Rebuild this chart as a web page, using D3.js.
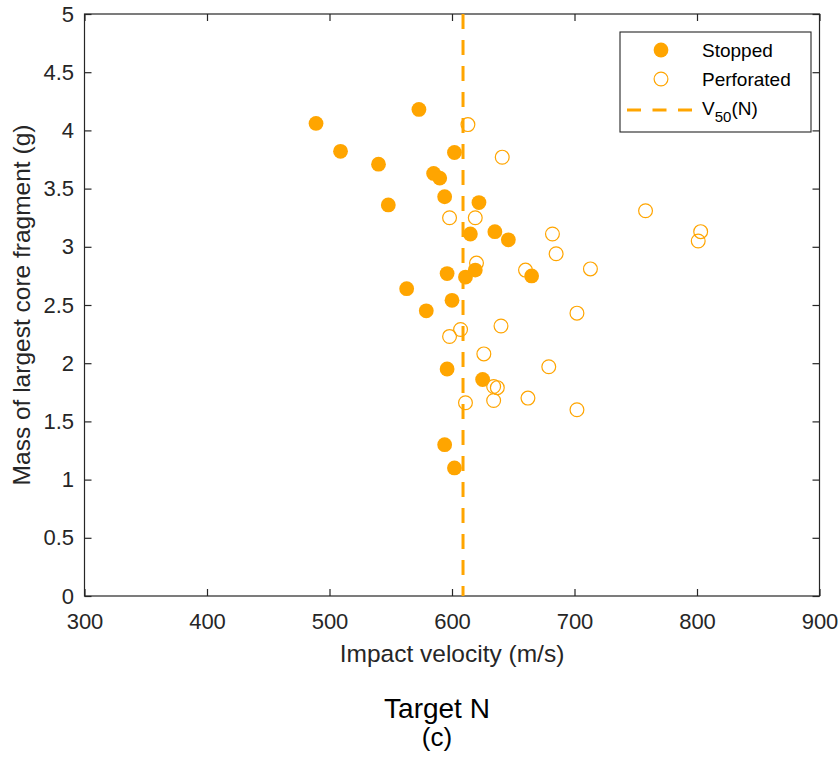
<!DOCTYPE html>
<html><head><meta charset="utf-8">
<script src="https://cdn.jsdelivr.net/npm/d3@7"></script>
<style>body{margin:0;background:#fff;} text{font-family:"Liberation Sans",Arial,sans-serif;}</style>
</head><body>
<svg id="c" width="839" height="761"></svg>
<script>
const stoppedX = [489,509,540,573,548,585,590,602,594,622,615,635,646,596,611,619,665,563,579,600,596,625,594,602];
const stoppedY = [4.06,3.82,3.71,4.18,3.36,3.63,3.59,3.81,3.43,3.38,3.11,3.13,3.06,2.77,2.74,2.80,2.75,2.64,2.45,2.54,1.95,1.86,1.30,1.10];
const perfX = [613,641,598,619,620,660,682,685,713,702,758,803,801,640,607,598,626,679,634,637,634,662,702,611];
const perfY = [4.05,3.77,3.25,3.25,2.86,2.80,3.11,2.94,2.81,2.43,3.31,3.13,3.05,2.32,2.29,2.23,2.08,1.97,1.80,1.79,1.68,1.70,1.60,1.66];
const v50 = 609;
const xTicks = [300,400,500,600,700,800,900];
const yTicks = [0,0.5,1,1.5,2,2.5,3,3.5,4,4.5,5];
const legendLabels = ["Stopped","Perforated"];

const col = "#ffa500", axc = "#262626";
const L=84.5, R=819.5, T=14, B=596;
const svg = d3.select("#c");
const x = d3.scaleLinear().domain([300,900]).range([L,R]);
const y = d3.scaleLinear().domain([0,5]).range([B,T]);

svg.append("rect").attr("x",L).attr("y",T).attr("width",R-L).attr("height",B-T)
  .attr("fill","none").attr("stroke",axc).attr("stroke-width",1.2);

const fmt = d => String(d);
const gx = svg.append("g").attr("transform",`translate(0,${B})`)
  .call(d3.axisBottom(x).tickValues(xTicks).tickSize(-7).tickPadding(17).tickFormat(fmt));
const gxt = svg.append("g").attr("transform",`translate(0,${T})`)
  .call(d3.axisTop(x).tickValues(xTicks).tickSize(-7).tickFormat(""));
const gy = svg.append("g").attr("transform",`translate(${L},0)`)
  .call(d3.axisLeft(y).tickValues(yTicks).tickSize(-7).tickPadding(10.5).tickFormat(fmt));
const gyr = svg.append("g").attr("transform",`translate(${R},0)`)
  .call(d3.axisRight(y).tickValues(yTicks).tickSize(-7).tickFormat(""));
[gx,gxt,gy,gyr].forEach(g=>{
  g.select(".domain").remove();
  g.selectAll("line").attr("stroke",axc).attr("stroke-width",1.2);
  g.selectAll("text").attr("fill",axc).style("font-size","22px").style("font-family","Liberation Sans, Arial, sans-serif");
});

svg.append("line").attr("x1",x(v50)).attr("x2",x(v50)).attr("y1",T).attr("y2",B)
  .attr("stroke",col).attr("stroke-width",3).attr("stroke-dasharray","15,11");

svg.append("g").selectAll("circle").data(stoppedX.map((d,i)=>[d,stoppedY[i]])).join("circle")
  .attr("cx",d=>x(d[0])).attr("cy",d=>y(d[1])).attr("r",7.4).attr("fill",col);
svg.append("g").selectAll("circle").data(perfX.map((d,i)=>[d,perfY[i]])).join("circle")
  .attr("cx",d=>x(d[0])).attr("cy",d=>y(d[1])).attr("r",6.9).attr("fill","none")
  .attr("stroke",col).attr("stroke-width",1.2);

const lg = svg.append("g");
lg.append("rect").attr("x",620).attr("y",32).attr("width",191).attr("height",100)
  .attr("fill","#fff").attr("stroke",axc).attr("stroke-width",1.1);
lg.append("circle").attr("cx",661).attr("cy",50).attr("r",7.4).attr("fill",col);
lg.append("circle").attr("cx",661).attr("cy",79).attr("r",6.9).attr("fill","none").attr("stroke",col).attr("stroke-width",1.2);
lg.append("line").attr("x1",627).attr("x2",692).attr("y1",110).attr("y2",110)
  .attr("stroke",col).attr("stroke-width",3).attr("stroke-dasharray","14,11.5");
lg.append("text").attr("x",702).attr("y",57).text(legendLabels[0]).style("font-size","19px").attr("fill","#000");
lg.append("text").attr("x",702).attr("y",86).text(legendLabels[1]).style("font-size","19px").attr("fill","#000");
const vt = lg.append("text").attr("x",702).attr("y",115).style("font-size","19px").attr("fill","#000");
vt.append("tspan").text("V");
vt.append("tspan").text("50").attr("dy",7).style("font-size","15px");
vt.append("tspan").text("(N)").attr("dy",-7);

svg.append("text").attr("x",(L+R)/2).attr("y",662).attr("text-anchor","middle")
  .style("font-size","24.5px").attr("fill",axc).text("Impact velocity (m/s)");
svg.append("text").attr("transform",`translate(30,${(T+B)/2}) rotate(-90)`).attr("text-anchor","middle")
  .style("font-size","24.5px").attr("fill",axc).text("Mass of largest core fragment (g)");

svg.append("text").attr("x",437).attr("y",718).attr("text-anchor","middle")
  .style("font-size","28px").attr("fill","#000").text("Target N");
svg.append("text").attr("x",437).attr("y",746).attr("text-anchor","middle")
  .style("font-size","26px").attr("fill","#000").text("(c)");
</script>
</body></html>
